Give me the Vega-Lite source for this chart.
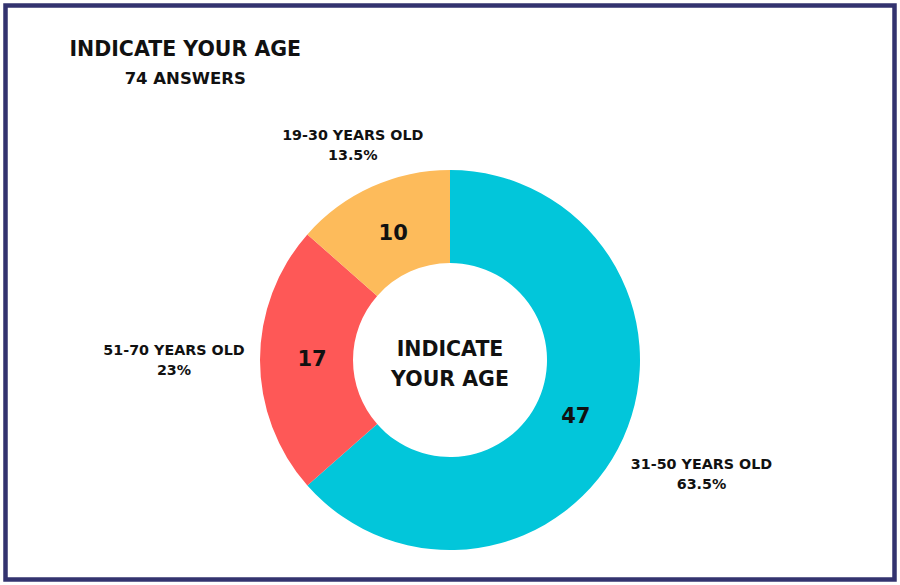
{
  "$schema": "https://vega.github.io/schema/vega-lite/v6.json",
  "width": 900,
  "height": 585,
  "autosize": {"type": "fit", "contains": "padding"},
  "padding": 2.5,
  "background": "#ffffff",
  "config": {
    "view": {"stroke": null},
    "text": {"font": "DejaVu Sans", "fontWeight": "bold", "color": "#111111"}
  },
  "title": {
    "text": "INDICATE YOUR AGE",
    "subtitle": "74 ANSWERS",
    "anchor": "start",
    "align": "center",
    "dx": 182,
    "offset": -84,
    "font": "DejaVu Sans",
    "fontSize": 20.5,
    "fontWeight": "bold",
    "color": "#111111",
    "subtitleFont": "DejaVu Sans",
    "subtitleFontSize": 16.5,
    "subtitleFontWeight": "bold",
    "subtitleColor": "#111111",
    "subtitlePadding": 10
  },
  "data": {
    "values": [
      {"age": "31-50 YEARS OLD", "n": 47, "pct": "63.5%"},
      {"age": "51-70 YEARS OLD", "n": 17, "pct": "23%"},
      {"age": "19-30 YEARS OLD", "n": 10, "pct": "13.5%"}
    ]
  },
  "layer": [
    {
      "data": {"values": [{"frame": "border"}]},
      "mark": {"type": "rect", "fill": null, "stroke": "#33336f", "strokeWidth": 4.5},
      "encoding": {}
    },
    {
      "mark": {"type": "arc", "radius": 190, "radius2": 97, "yOffset": 67.5},
      "encoding": {
        "theta": {"field": "n", "type": "quantitative", "stack": true},
        "order": {"field": "n", "sort": "descending"},
        "color": {
          "field": "age",
          "type": "nominal",
          "scale": {
            "domain": ["31-50 YEARS OLD", "51-70 YEARS OLD", "19-30 YEARS OLD"],
            "range": ["#02c6da", "#fe5857", "#fdbb5b"]
          },
          "legend": null
        }
      }
    },
    {
      "mark": {"type": "text", "radius": 138, "yOffset": 67.5, "fontSize": 21},
      "encoding": {
        "theta": {"field": "n", "type": "quantitative", "stack": true},
        "order": {"field": "n", "sort": "descending"},
        "text": {"field": "n", "type": "quantitative"}
      }
    },
    {
      "mark": {"type": "text", "yOffset": 68.5, "dy": -10, "fontSize": 14.3},
      "encoding": {
        "theta": {"field": "n", "type": "quantitative", "stack": true},
        "order": {"field": "n", "sort": "descending"},
        "text": {"field": "age", "type": "nominal"},
        "radius": {"field": "n", "type": "quantitative", "scale": {"type": "linear", "domain": [10, 17], "range": [236, 276], "clamp": true, "zero": false}, "legend": null}
      }
    },
    {
      "mark": {"type": "text", "yOffset": 68.5, "dy": 10, "fontSize": 14.3},
      "encoding": {
        "theta": {"field": "n", "type": "quantitative", "stack": true},
        "order": {"field": "n", "sort": "descending"},
        "text": {"field": "pct", "type": "nominal"},
        "radius": {"field": "n", "type": "quantitative", "scale": {"type": "linear", "domain": [10, 17], "range": [236, 276], "clamp": true, "zero": false}, "legend": null}
      }
    },
    {
      "data": {"values": [{"label": "INDICATE YOUR AGE"}]},
      "mark": {"type": "text", "yOffset": 67.5, "dy": -10, "fontSize": 20.5, "lineHeight": 30, "text": ["INDICATE", "YOUR AGE"]},
      "encoding": {}
    }
  ]
}
